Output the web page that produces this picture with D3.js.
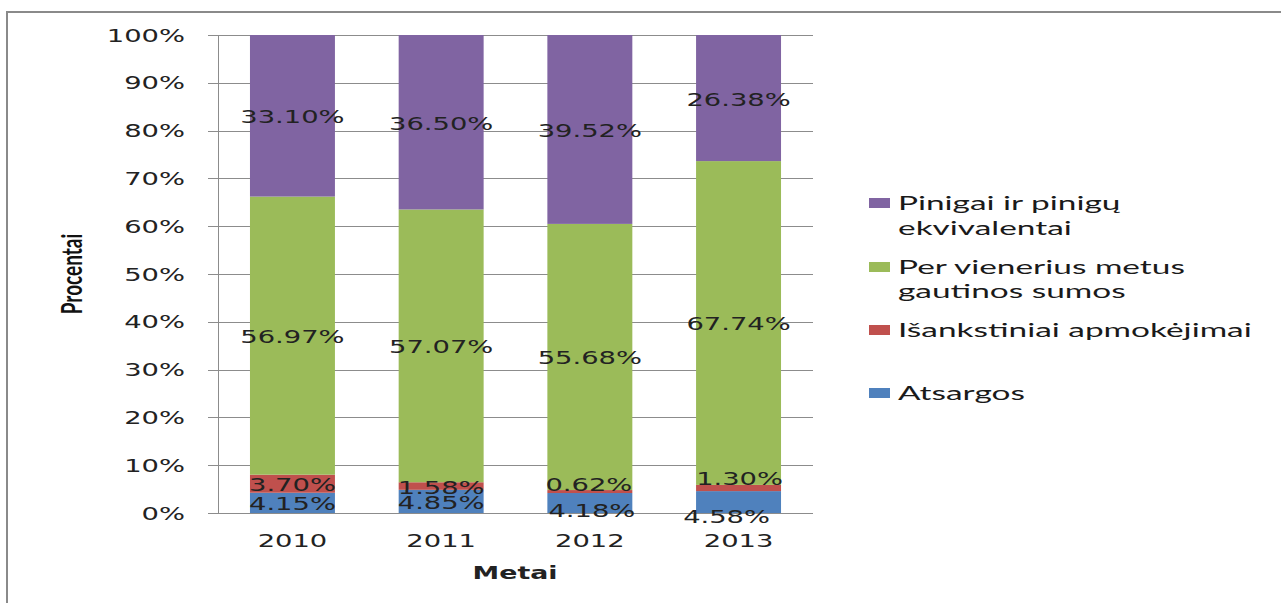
<!DOCTYPE html>
<html><head><meta charset="utf-8">
<script src="https://cdn.jsdelivr.net/npm/d3@7"></script>
<style>html,body{margin:0;padding:0;background:#fff;}svg{display:block;}</style>
</head><body>
<svg id="c" width="1281" height="603"></svg>
<script>
const years = ["2010", "2011", "2012", "2013"];
const seriesNames = ["Atsargos", "Išankstiniai apmokėjimai", "Per vienerius metus gautinos sumos", "Pinigai ir pinigų ekvivalentai"];
const atsargos = [4.15, 4.85, 4.18, 4.58];
const isankstiniai = [3.70, 1.58, 0.62, 1.30];
const gautinos = [56.97, 57.07, 55.68, 67.74];
const pinigai = [33.10, 36.50, 39.52, 26.38];
const yTicks = [0, 0.1, 0.2, 0.3, 0.4, 0.5, 0.6, 0.7, 0.8, 0.9, 1.0];
const colors = ["#4F81BD", "#C0504D", "#9BBB59", "#8064A2"];
const legendLines = [["Pinigai ir pinigų", "ekvivalentai"], ["Per vienerius metus", "gautinos sumos"], ["Išankstiniai apmokėjimai"], ["Atsargos"]];
const legendColors = ["#8064A2", "#9BBB59", "#C0504D", "#4F81BD"];

const svg = d3.select("#c");
const SX = 1.52;
const numFont = "'DejaVu Sans', Verdana, sans-serif";
const lgFont = "Lato, 'Open Sans', sans-serif";

// frame
svg.append("line").attr("x1", 7).attr("x2", 1281).attr("y1", 12).attr("y2", 12).attr("stroke", "#8a8a8a").attr("stroke-width", 2);
svg.append("line").attr("x1", 7).attr("x2", 7).attr("y1", 11).attr("y2", 603).attr("stroke", "#8a8a8a").attr("stroke-width", 2);

const x = d3.scaleBand().domain(years).range([218, 813]).paddingInner(0.4286).paddingOuter(0.215);
const y = d3.scaleLinear().domain([0, 1]).range([513, 35]);

function stext(g, tx, ty, str, opts) {
  const gg = g.append("g").attr("transform", `translate(${tx},${ty}) scale(${opts.sx || SX},1)`);
  return gg.append("text").attr("x", 0).attr("y", 0)
    .attr("text-anchor", opts.anchor || "middle")
    .attr("font-family", opts.font || numFont)
    .attr("font-size", opts.size || 18)
    .attr("font-weight", opts.weight || "normal")
    .attr("fill", opts.fill || "#222")
    .text(str);
}

// gridlines
const grid = svg.append("g");
yTicks.forEach(t => {
  grid.append("line").attr("x1", 208).attr("x2", 813).attr("y1", Math.round(y(t)) + 0.5).attr("y2", Math.round(y(t)) + 0.5)
    .attr("stroke", "#8c8c8c").attr("stroke-width", 1);
  stext(svg, 185, y(t) + 6.5, d3.format(".0%")(t), {anchor: "end"});
});
svg.append("line").attr("x1", 218.5).attr("x2", 218.5).attr("y1", 35).attr("y2", 513).attr("stroke", "#8c8c8c");

// stacked data
const rows = years.map((yr, i) => ({year: yr, a: atsargos[i], b: isankstiniai[i], c: gautinos[i], d: pinigai[i]}));
const keys = ["a", "b", "c", "d"];
const stack = d3.stack().keys(keys).offset(d3.stackOffsetExpand);
const layers = stack(rows);

layers.forEach((layer, li) => {
  svg.append("g").selectAll("rect").data(layer).join("rect")
    .attr("x", d => x(d.data.year)).attr("width", x.bandwidth())
    .attr("y", d => y(d[1])).attr("height", d => y(d[0]) - y(d[1]))
    .attr("fill", colors[li]);
});

// label offsets (px) for labels moved in the original
const labelShift = {"2012-a": [2, 6], "2012-b": [-1, -8], "2013-a": [-12, 13], "2013-b": [1, -11]};
layers.forEach((layer, li) => {
  layer.forEach(d => {
    const k = d.data.year + "-" + keys[li];
    const s = labelShift[k] || [0, 0];
    const cx = x(d.data.year) + x.bandwidth() / 2 + s[0];
    const cy = (y(d[0]) + y(d[1])) / 2 + s[1];
    stext(svg, cx, cy + 7.5, d.data[keys[li]].toFixed(2) + "%", {});
  });
});

// x labels
years.forEach(yr => stext(svg, x(yr) + x.bandwidth() / 2, 547, yr, {}));
stext(svg, 515, 579, "Metai", {weight: "bold", sx: 1.49});

// y title
const yt = svg.append("g").attr("transform", "translate(82,274) scale(1.5,1) rotate(-90)");
yt.append("text").attr("text-anchor", "middle").attr("font-family", lgFont).attr("font-weight", "bold")
  .attr("font-size", 19).attr("fill", "#111").text("Procentai");

// legend
const lgY = [[210, 235], [274, 298], [337], [400]];
const sqY = [198, 262, 325, 388];
let lgScale = 1.5;
const probe = svg.append("text").attr("font-family", lgFont).attr("font-size", 19).text("Išankstiniai apmokėjimai");
const w = probe.node().getComputedTextLength();
probe.remove();
if (w > 0) lgScale = 354 / w;
legendLines.forEach((lines, i) => {
  svg.append("rect").attr("x", 869).attr("y", sqY[i]).attr("width", 21).attr("height", 10).attr("fill", legendColors[i]);
  lines.forEach((ln, j) => stext(svg, 898, lgY[i][j], ln, {anchor: "start", font: lgFont, size: 19, sx: lgScale, fill: "#1a1a1a"}));
});
</script>
</body></html>
